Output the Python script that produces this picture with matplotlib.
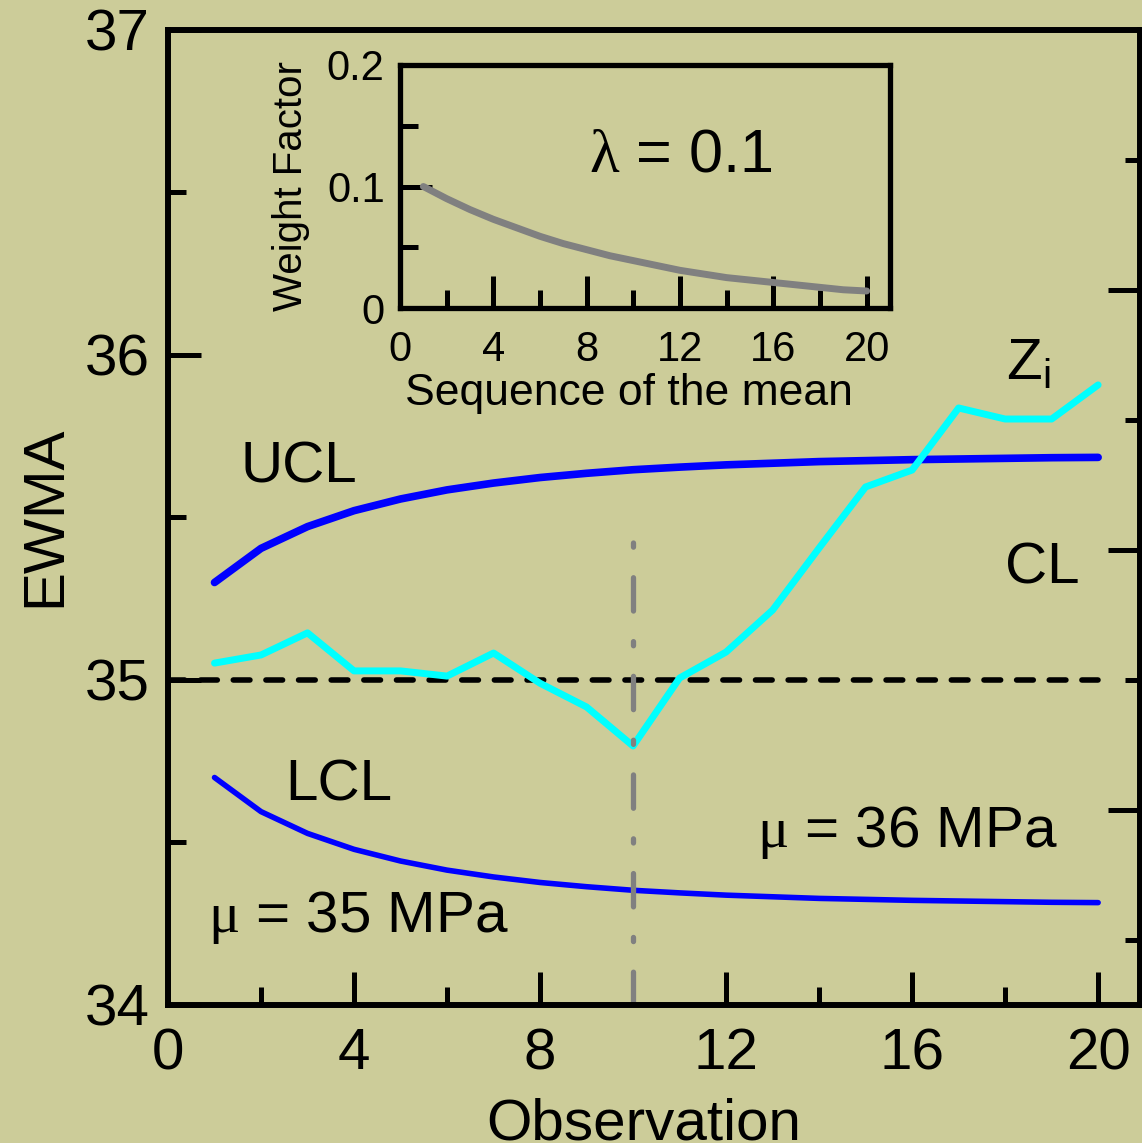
import matplotlib
matplotlib.use("Agg")
import matplotlib.pyplot as plt
from matplotlib.ticker import MultipleLocator, FixedLocator

plt.rcParams['font.family'] = ['Liberation Sans', 'DejaVu Sans']
plt.rcParams['mathtext.fontset'] = 'custom'
plt.rcParams['mathtext.rm'] = 'Liberation Sans'
plt.rcParams['mathtext.it'] = 'Liberation Serif'
plt.rcParams['mathtext.bf'] = 'Liberation Sans:bold'
plt.rcParams['lines.scale_dashes'] = False

BG = '#CCCC99'

# data
obs = list(range(1, 21))
ucl = [35.300, 35.405, 35.472, 35.521, 35.557, 35.585, 35.606, 35.623, 35.636, 35.647,
       35.655, 35.662, 35.667, 35.672, 35.675, 35.678, 35.680, 35.682, 35.684, 35.685]
lcl = [34.700, 34.595, 34.528, 34.479, 34.443, 34.415, 34.394, 34.377, 34.364, 34.353,
       34.345, 34.338, 34.333, 34.328, 34.325, 34.322, 34.320, 34.318, 34.316, 34.315]
zi = [35.052, 35.077, 35.145, 35.028, 35.028, 35.012, 35.083, 34.990, 34.917, 34.797,
      35.006, 35.086, 35.215, 35.406, 35.594, 35.646, 35.837, 35.803, 35.803, 35.908]
cl_value = 35.0
shift_obs = 10

seq = list(range(1, 21))
weight = [0.100, 0.090, 0.081, 0.073, 0.066, 0.059, 0.053, 0.048, 0.043, 0.039,
          0.035, 0.031, 0.028, 0.025, 0.023, 0.021, 0.019, 0.017, 0.015, 0.014]

W, H = 1142, 1143
fig = plt.figure(figsize=(W / 100, H / 100), dpi=100, facecolor=BG)

# main axes (pixel box: x 168..1140, y 30..1005)
ax = fig.add_axes([168 / W, 1 - 1005 / H, (1140 - 168) / W, (1005 - 30) / H])
ax.set_facecolor(BG)
ax.set_xlim(0, 20.9)
ax.set_ylim(34, 37)

ax.plot(obs, ucl, color='#0000FF', lw=5.5, solid_capstyle='round', zorder=3)
ax.plot(obs, lcl, color='#0000FF', lw=4.0, solid_capstyle='round', zorder=3)
ax.plot([0, 20], [cl_value, cl_value], color='black', lw=4.0, dash_capstyle='round',
        dashes=(12, 11.5), zorder=2)
ax.plot([shift_obs, shift_obs], [34, 35.5], color='#808080', lw=3.8, dash_capstyle='round',
        dashes=(24, 22, 3, 22), zorder=4)
ax.plot(obs, zi, color='#00FFFF', lw=5.0, solid_capstyle='round', zorder=3)

for s in ax.spines.values():
    s.set_linewidth(4.3)
    s.set_zorder(5)

ax.xaxis.set_major_locator(MultipleLocator(4))
ax.xaxis.set_minor_locator(MultipleLocator(2))
ax.yaxis.set_major_locator(MultipleLocator(1))
ax.yaxis.set_minor_locator(MultipleLocator(0.5))
ax.tick_params(which='both', direction='in', top=False, right=False, width=3.6)
ax.tick_params(which='major', length=24)
ax.tick_params(which='minor', length=13)
ax.tick_params(axis='x', which='major', labelsize=42, pad=16)
ax.tick_params(axis='y', which='major', labelsize=42, pad=13)

# right side ticks (no labels)
rax = ax.twinx()
rax.set_ylim(34, 37)
rax.yaxis.set_major_locator(FixedLocator([34.6, 35.4, 36.2]))
rax.yaxis.set_minor_locator(FixedLocator([34.2, 35.0, 35.8, 36.6]))
rax.tick_params(which='both', direction='in', width=3.6, labelright=False)
rax.tick_params(which='major', length=23)
rax.tick_params(which='minor', length=11)
for s in rax.spines.values():
    s.set_visible(False)

fig.text(644 / W, 1 - 1139 / H, 'Observation', fontsize=42, ha='center', va='baseline')
fig.text(60 / W, 1 - 516 / H, 'EWMA', fontsize=42, rotation=90, rotation_mode='anchor',
         ha='center', va='baseline')

ax.text(1.55, 35.609, 'UCL', fontsize=42, va='baseline')
ax.text(2.52, 34.628, 'LCL', fontsize=42, va='baseline')
ax.text(18.0, 35.298, 'CL', fontsize=42, va='baseline')
ax.text(18.02, 35.926, r'$\mathrm{Z_i}$', fontsize=42, va='baseline')
ax.text(12.67, 34.486, r'$\mu$ = 36 MPa', fontsize=42, va='baseline')
ax.text(0.85, 34.225, r'$\mu$ = 35 MPa', fontsize=42, va='baseline')

# inset (pixel box: x 400..890, y 65..308)
ins = fig.add_axes([400 / W, 1 - 308 / H, (890 - 400) / W, (308 - 65) / H])
ins.set_facecolor(BG)
ins.set_xlim(0, 21)
ins.set_ylim(0, 0.2)
ins.plot(seq, weight, color='#808080', lw=5.0, solid_capstyle='round')
for s in ins.spines.values():
    s.set_linewidth(3.8)
ins.xaxis.set_major_locator(MultipleLocator(4))
ins.xaxis.set_minor_locator(MultipleLocator(2))
ins.set_yticks([0, 0.1, 0.2])
ins.set_yticklabels(['0', '0.1', '0.2'])
ins.yaxis.set_minor_locator(FixedLocator([0.05, 0.15]))
ins.tick_params(which='both', direction='in', top=False, right=False, width=3.6)
ins.tick_params(which='major', length=23)
ins.tick_params(which='minor', length=13)
ins.tick_params(axis='x', which='major', labelsize=30, pad=16)
ins.tick_params(axis='y', which='major', labelsize=30, pad=11)
ins.text(8.11, 0.112, r'$\lambda$ = 0.1', fontsize=44, va='baseline')

fig.text(629 / W, 1 - 405 / H, 'Sequence of the mean', fontsize=32, ha='center', va='baseline')
fig.text(302 / W, 1 - 186 / H, 'Weight Factor', fontsize=29, rotation=90, rotation_mode='anchor',
         ha='center', va='baseline')

fig.savefig('out.png', dpi=100, facecolor=BG)
